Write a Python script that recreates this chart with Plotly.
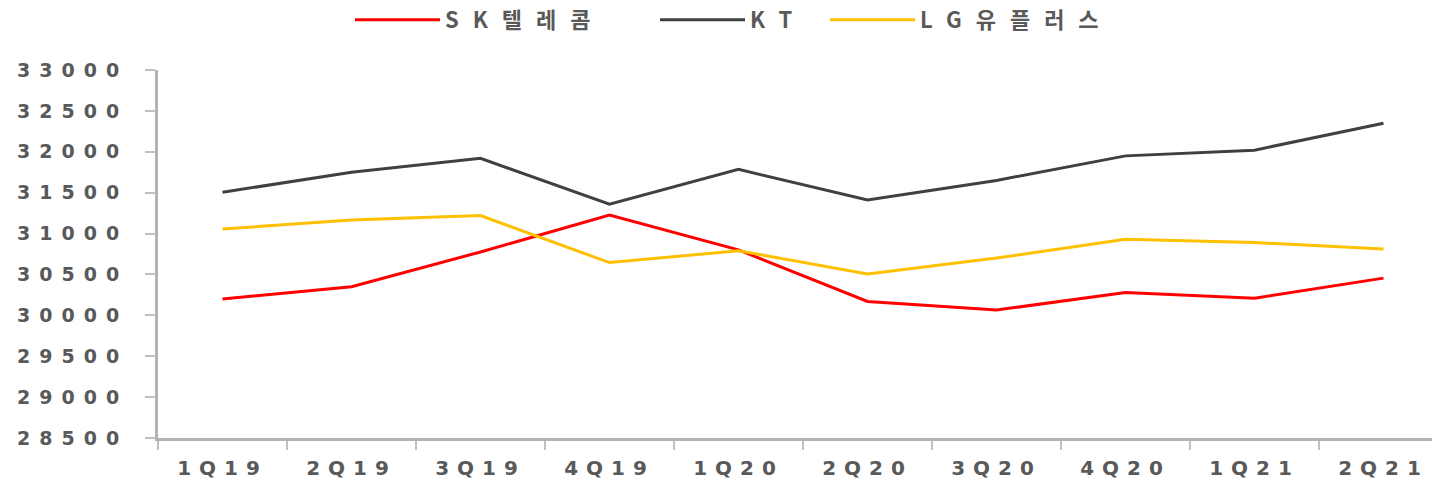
import plotly.graph_objects as go

quarters = ["1Q19", "2Q19", "3Q19", "4Q19", "1Q20", "2Q20", "3Q20", "4Q20", "1Q21", "2Q21"]
sk_telecom = [30200, 30350, 30775, 31225, 30800, 30170, 30065, 30280, 30210, 30455]
kt = [31505, 31750, 31920, 31360, 31785, 31410, 31650, 31950, 32020, 32350]
lg_uplus = [31055, 31165, 31220, 30645, 30790, 30505, 30700, 30930, 30890, 30810]
y_ticks = [28500, 29000, 29500, 30000, 30500, 31000, 31500, 32000, 32500, 33000]
y_tick_labels = [str(v) for v in y_ticks]

series = [
    ("SK텔레콤", sk_telecom, "#FF0000", "legend", 350),
    ("KT", kt, "#404040", "legend2", 655),
    ("LG유플러스", lg_uplus, "#FFC000", "legend3", 825),
]

W, H = 1432, 482
fig = go.Figure()
legend_layouts = {}
for name, vals, color, lg, lx in series:
    fig.add_trace(go.Scatter(x=quarters, y=vals, name=name, mode="lines",
                             line=dict(color=color, width=3), legend=lg))
    legend_layouts[lg] = dict(
        orientation="h", xref="container", yref="container",
        x=lx / W, xanchor="left", y=(H - 20) / H, yanchor="middle",
        font=dict(size=22, color="#595959", family="Noto Sans CJK KR", weight="bold"),
        itemwidth=85, entrywidth=300, bgcolor="rgba(0,0,0,0)")

font_family = "DejaVu Sans, Noto Sans CJK KR"
fig.update_layout(
    width=W, height=H,
    margin=dict(l=158, r=0, t=70, b=44, autoexpand=False),
    paper_bgcolor="white", plot_bgcolor="white",
    font=dict(family=font_family, size=19, color="#595959", weight="bold"),
    showlegend=True,
    xaxis=dict(type="category", range=[-0.5, 9.376], showline=True, linecolor="#B3B3B3",
               linewidth=3, ticks="outside", tickson="boundaries", ticklen=9,
               tickcolor="#C0C0C0", tickwidth=2, showgrid=False, zeroline=False,
               ticklabelstandoff=10, fixedrange=True,
               tickfont=dict(size=20)),
    yaxis=dict(range=[28500, 33000], tickvals=y_ticks, ticktext=y_tick_labels,
               showline=True, linecolor="#B3B3B3",
               linewidth=3, ticks="outside", ticklen=10, tickcolor="#C0C0C0", tickwidth=2,
               showgrid=False, zeroline=False, ticklabelstandoff=13, fixedrange=True),
    **legend_layouts,
)

post = """
document.body.style.margin = '0';
document.body.style.padding = '0';
var st = document.createElement('style');
st.textContent = '.ytick text{letter-spacing:9px !important;} .xtick text{letter-spacing:8px !important;} '
  + '.infolayer text, g[class^="legend"] text, text.legendtext{letter-spacing:14px !important;}';
document.head.appendChild(st);
"""
fig.write_html("out.html", post_script=post, config={"displayModeBar": False})
